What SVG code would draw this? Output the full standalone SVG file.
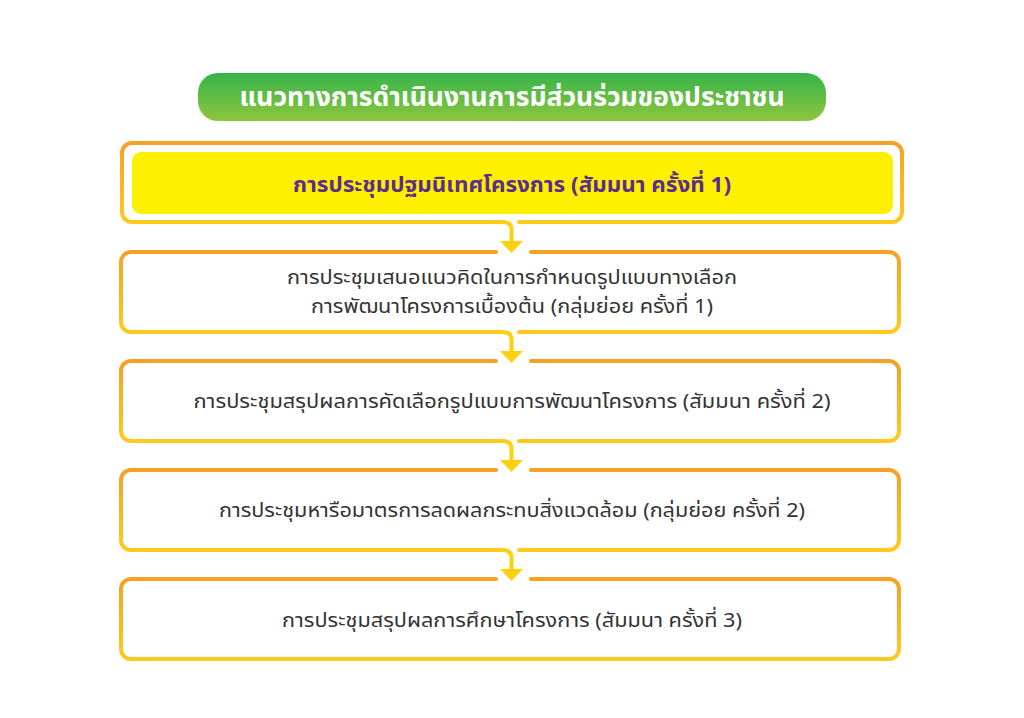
<svg xmlns="http://www.w3.org/2000/svg" width="1024" height="718" viewBox="0 0 1024 718">
<defs>
<linearGradient id="gTitle" x1="0" y1="0" x2="0" y2="1">
<stop offset="0" stop-color="#37B34A"/>
<stop offset="1" stop-color="#8DC63F"/>
</linearGradient>
<linearGradient id="gBox" x1="0" y1="0" x2="0" y2="1">
<stop offset="0" stop-color="#F7A023"/>
<stop offset="1" stop-color="#FFC91E"/>
</linearGradient>
<style>
.box{fill:none;stroke:url(#gBox);stroke-width:4;stroke-linecap:round}
.arr{fill:none;stroke:#FFD00F;stroke-width:4;stroke-linecap:round}
.head{fill:#FFD00F}
.t{font-family:"Noto Sans","Noto Sans Thai",Loma,sans-serif;font-size:20px;fill:#333333;text-anchor:middle}
.tt{font-family:"Noto Sans","Noto Sans Thai",Loma,sans-serif;font-size:26px;font-weight:bold;fill:#FFFFFF;text-anchor:middle}
.ty{font-family:"Noto Sans","Noto Sans Thai",Loma,sans-serif;font-size:21px;font-weight:bold;fill:#5A2D8E;text-anchor:middle}
</style>
</defs>
<rect width="1024" height="718" fill="#FFFFFF"/>
<g id="title">
<rect x="198" y="73" width="628" height="48" rx="20" fill="url(#gTitle)"/>
<text class="tt" x="512" y="106" textLength="545" lengthAdjust="spacingAndGlyphs">แนวทางการดำเนินงานการมีส่วนร่วมของประชาชน</text>
</g>
<g id="n1">
<path class="box" d="M519,222 H892 A10,10 0 0 0 902,212 V153 A10,10 0 0 0 892,143 H132 A10,10 0 0 0 122,153 V212 A10,10 0 0 0 132,222 H503"/>
<rect x="132" y="152" width="761" height="62" rx="9" fill="#FFF000"/>
<text class="ty" x="512" y="192" textLength="438" lengthAdjust="spacingAndGlyphs">การประชุมปฐมนิเทศโครงการ (สัมมนา ครั้งที่ 1)</text>
</g>
<g id="n2">
<path class="box" d="M519,332 H889 A10,10 0 0 0 899,322 V262 A10,10 0 0 0 889,252 H531 M496,252 H131 A10,10 0 0 0 121,262 V322 A10,10 0 0 0 131,332 H503"/>
<text class="t" x="512" y="284" textLength="450" lengthAdjust="spacingAndGlyphs">การประชุมเสนอแนวคิดในการกำหนดรูปแบบทางเลือก</text>
<text class="t" x="512" y="313" textLength="402" lengthAdjust="spacingAndGlyphs">การพัฒนาโครงการเบื้องต้น (กลุ่มย่อย ครั้งที่ 1)</text>
</g>
<g id="n3">
<path class="box" d="M519,441 H889 A10,10 0 0 0 899,431 V371 A10,10 0 0 0 889,361 H531 M496,361 H131 A10,10 0 0 0 121,371 V431 A10,10 0 0 0 131,441 H503"/>
<text class="t" x="512" y="408" textLength="637" lengthAdjust="spacingAndGlyphs">การประชุมสรุปผลการคัดเลือกรูปแบบการพัฒนาโครงการ (สัมมนา ครั้งที่ 2)</text>
</g>
<g id="n4">
<path class="box" d="M519,550 H889 A10,10 0 0 0 899,540 V480 A10,10 0 0 0 889,470 H531 M496,470 H131 A10,10 0 0 0 121,480 V540 A10,10 0 0 0 131,550 H503"/>
<text class="t" x="512" y="517" textLength="586" lengthAdjust="spacingAndGlyphs">การประชุมหารือมาตรการลดผลกระทบสิ่งแวดล้อม (กลุ่มย่อย ครั้งที่ 2)</text>
</g>
<g id="n5">
<path class="box" d="M531,579 H889 A10,10 0 0 1 899,589 V649 A10,10 0 0 1 889,659 H131 A10,10 0 0 1 121,649 V589 A10,10 0 0 1 131,579 H496"/>
<text class="t" x="512" y="627" textLength="460" lengthAdjust="spacingAndGlyphs">การประชุมสรุปผลการศึกษาโครงการ (สัมมนา ครั้งที่ 3)</text>
</g>
<g id="connectors">
<path class="arr" d="M503,222 Q511.5,222 511.5,230 V243"/>
<polygon class="head" points="500,241 523,241 511.5,253"/>
<path class="arr" d="M503,332 Q511.5,332 511.5,340 V353"/>
<polygon class="head" points="500,351 523,351 511.5,363"/>
<path class="arr" d="M503,441 Q511.5,441 511.5,449 V462"/>
<polygon class="head" points="500,460 523,460 511.5,472"/>
<path class="arr" d="M503,550 Q511.5,550 511.5,558 V571"/>
<polygon class="head" points="500,569 523,569 511.5,581"/>
</g>
</svg>
